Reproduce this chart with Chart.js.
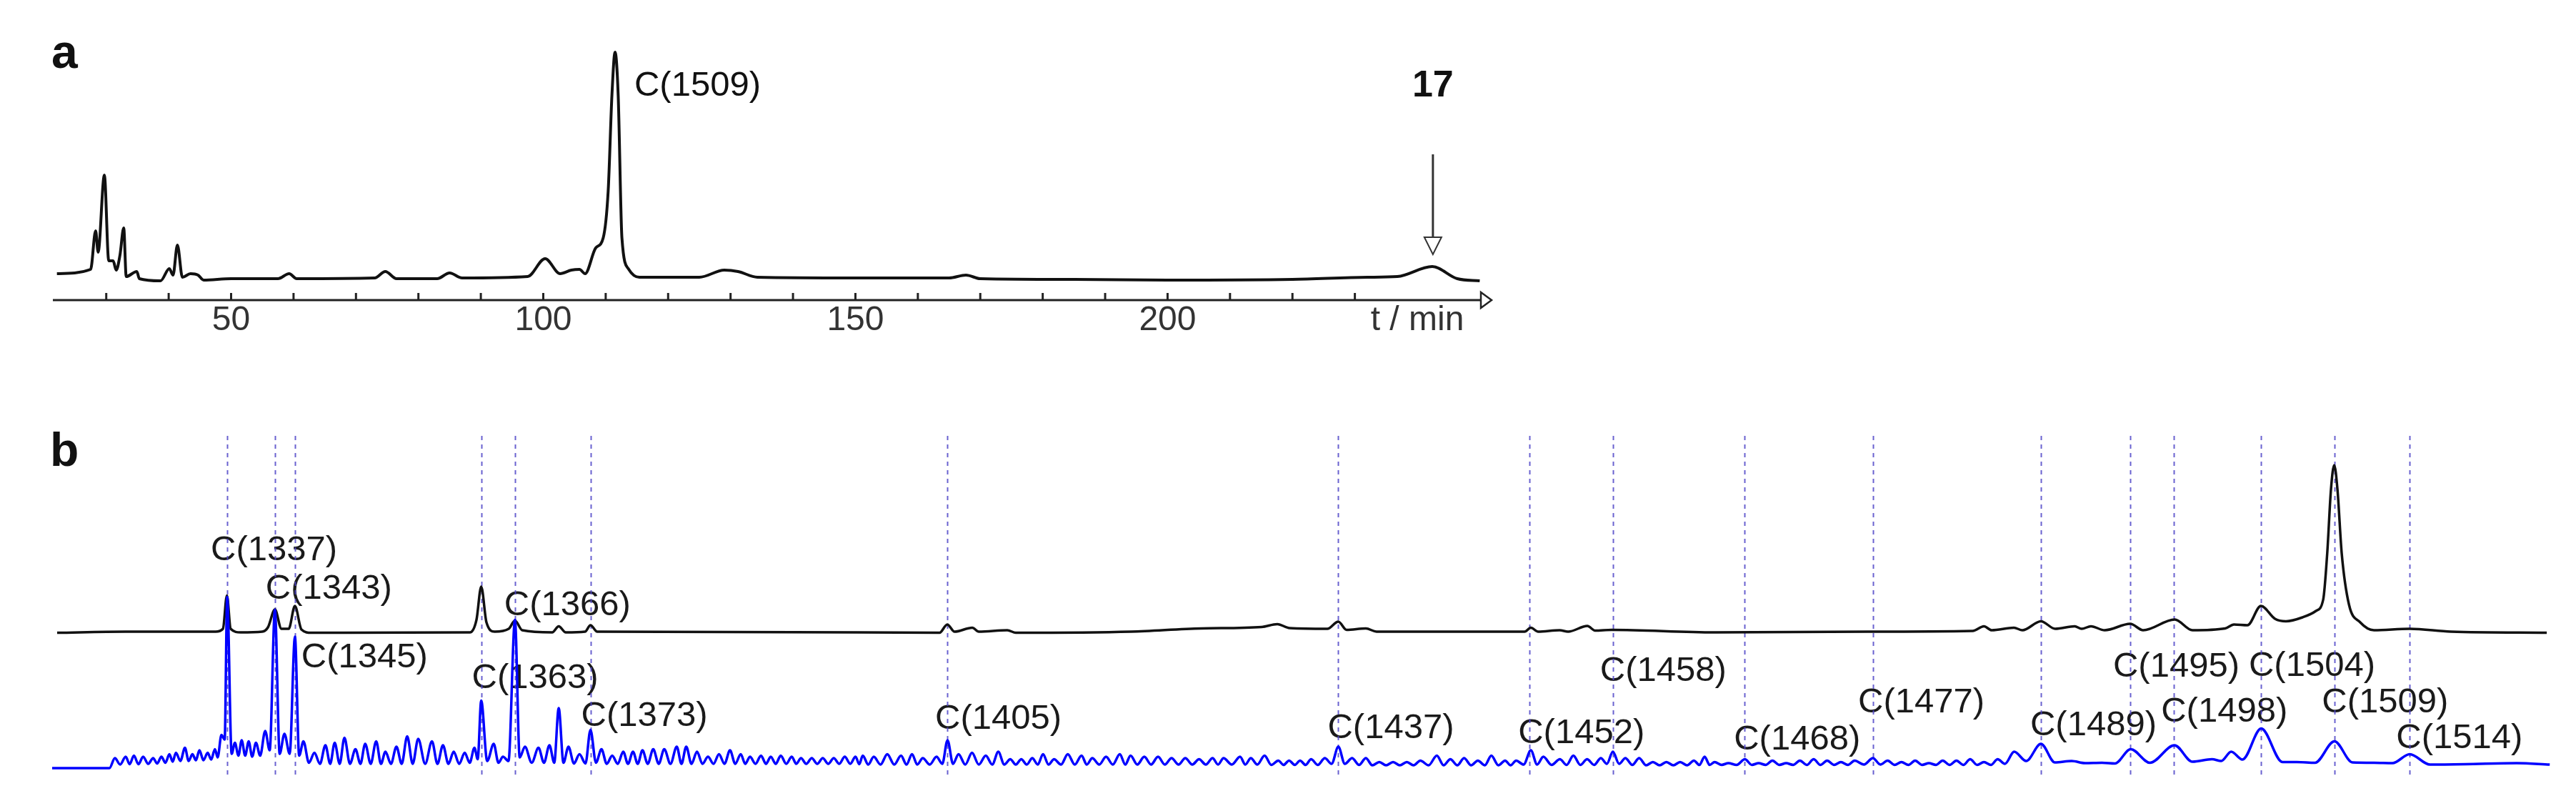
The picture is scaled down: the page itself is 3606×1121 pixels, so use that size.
<!DOCTYPE html>
<html>
<head>
<meta charset="utf-8">
<script src="https://cdn.jsdelivr.net/npm/chart.js@4.4.0/dist/chart.umd.min.js"></script>
<style>
  html, body { margin: 0; padding: 0; background: #fff; }
  body { width: 3606px; height: 1121px; position: relative; overflow: hidden; }
  .panel { position: absolute; left: 0; width: 3606px; }
  #panel-a { top: 0; height: 480px; }
  #panel-b { top: 560px; height: 561px; }
</style>
</head>
<body>
<div class="panel" id="panel-a"><canvas id="chart-a"></canvas></div>
<div class="panel" id="panel-b"><canvas id="chart-b"></canvas></div>
<script>
// ---- Panel a: whole chromatogram, [t / min, signal (a.u.)] ----
const traceA = [
  [22.1, 9.25], [27.5, 10.75], [28.3, 24.25], [28.7, 16.75], [29.7, 43.75], [30.4, 13.75],
  [31.1, 13.75], [31.6, 10.5], [32.2, 15.75], [32.8, 25.25], [33.2, 8.25], [34.9, 10],
  [35.3, 7.5], [38.7, 6.75], [40.1, 11], [40.7, 8.75], [41.4, 19.25], [42.2, 8],
  [43.5, 9.25], [44.7, 8.75], [45.6, 7], [50, 7.5], [57.5, 7.5], [59.3, 9.25], [60.5, 7.5],
  [73, 7.75], [74.7, 10], [76.5, 7.5], [83, 7.5], [85, 9.5], [87, 7.75], [97.5, 8.25],
  [100.3, 14.5], [102.7, 9.25], [104.5, 10.5], [105.8, 10.75], [106.7, 9.25], [108.4, 18.25],
  [109.6, 21.75], [110.4, 38.25], [111.0, 71.75], [111.5, 86.75], [112.0, 71.75], [112.6, 21.75],
  [113.7, 10.75], [115.4, 8], [125, 8], [129, 10.5], [131.2, 10], [134.3, 8], [150, 7.75],
  [165, 7.75], [167.7, 8.75], [170, 7.5], [185, 7.25], [200, 7], [220, 7.25], [232, 8],
  [236.8, 8.25], [242.4, 11.75], [246.4, 7.5], [250, 6.75]
];
const tickMarksA = [30, 40, 50, 60, 70, 80, 90, 100, 110, 120, 130, 140, 150, 160, 170, 180, 190, 200, 210, 220, 230];
const tickLabelsA = { 50: '50', 100: '100', 150: '150', 200: '200', 240: 't / min' };
const mainPeakT = 111.5;
const mainPeakName = 'C(1509)';
const productT = 242.5;
const productName = '17';

// ---- Panel b: fraction (black) and ladder (blue), [retention (a.u.), signal (a.u.)] ----
const fractionTrace = [
  [0.2, 42.9], [2.94, 43.2], [6.54, 43.2], [6.83, 44.0], [6.99, 53.3], [7.14, 44.0], [7.54, 43.0],
  [8.4, 43.2], [8.63, 44.4], [8.91, 49.4], [9.17, 44.0], [9.46, 44.0], [9.71, 50.4], [9.97, 43.8],
  [10.37, 42.9], [16.71, 43.0], [16.97, 46.5], [17.16, 55.8], [17.37, 45.8], [17.7, 43.2],
  [18.26, 44.0], [18.51, 46.3], [18.8, 43.6], [20.0, 43.0], [20.26, 44.7], [20.54, 43.0],
  [21.31, 43.2], [21.53, 45.0], [21.8, 43.2], [32.2, 43.0], [35.49, 42.9], [35.8, 45.2],
  [36.09, 43.2], [36.8, 44.3], [37.06, 43.2], [38.2, 43.6], [38.54, 42.9], [43.14, 43.2],
  [45.97, 44.1], [48.37, 44.5], [49.0, 45.3], [49.49, 44.2], [51.0, 44.0], [51.44, 46.0],
  [51.77, 43.7], [52.54, 44.1], [52.97, 43.2], [58.89, 43.2], [59.14, 44.3], [59.43, 43.2],
  [60.29, 43.6], [60.63, 43.2], [61.4, 44.8], [61.71, 43.5], [62.37, 43.7], [66.49, 43.0],
  [72.63, 43.2], [76.81, 43.4], [77.26, 44.7], [77.57, 43.6], [78.46, 44.3], [78.8, 43.6],
  [79.54, 46.1], [80.11, 44.0], [80.89, 44.7], [81.17, 44.0], [81.54, 44.7], [82.09, 43.6],
  [83.11, 45.4], [83.63, 43.6], [84.89, 46.6], [85.6, 43.6], [86.91, 44.1], [87.26, 45.2],
  [87.8, 45.0], [88.34, 50.4], [88.9, 46.8], [89.34, 46.1], [90.0, 47.2], [90.54, 49.0],
  [90.83, 52.2], [90.99, 65.1], [91.14, 83.0], [91.27, 89.8], [91.4, 83.0], [91.57, 65.1],
  [91.86, 50.8], [92.31, 45.8], [92.86, 43.6], [94.29, 44.0], [95.94, 43.2], [99.77, 42.9]
];
const ladderTrace = [
  [0, 5.0], [2.29, 5.0], [2.51, 7.8], [2.72, 6.0], [2.94, 8.2], [3.1, 6.1], [3.27, 8.5], [3.45, 6.1],
  [3.64, 8.2], [3.84, 6.2], [4.04, 7.8], [4.2, 6.3], [4.37, 8.2], [4.53, 6.5], [4.69, 8.9], [4.82, 6.8],
  [4.95, 9.3], [5.13, 7.0], [5.31, 10.7], [5.46, 7.0], [5.61, 8.9], [5.75, 7.2], [5.89, 10.0], [6.05, 7.2],
  [6.22, 9.3], [6.36, 7.4], [6.51, 10.3], [6.62, 8.0], [6.77, 14.3], [6.9, 13.0], [7.0, 52.9], [7.18, 9.0],
  [7.31, 12.1], [7.45, 8.5], [7.58, 12.8], [7.72, 8.5], [7.86, 12.5], [8.0, 8.2], [8.15, 12.1], [8.32, 8.5],
  [8.52, 15.4], [8.7, 10.0], [8.91, 49.3], [9.1, 9.0], [9.29, 14.6], [9.5, 9.0], [9.71, 41.8], [9.88, 8.5],
  [10.05, 12.5], [10.27, 6.5], [10.49, 9.3], [10.71, 6.2], [10.93, 11.4], [11.12, 6.2], [11.3, 12.1], [11.5, 6.2],
  [11.69, 13.5], [11.91, 6.2], [12.13, 10.3], [12.33, 6.2], [12.52, 11.8], [12.74, 6.2], [12.96, 12.5], [13.15, 6.2],
  [13.33, 9.6], [13.55, 6.2], [13.77, 11.0], [13.98, 6.2], [14.2, 13.9], [14.42, 6.2], [14.64, 13.2], [14.92, 6.2],
  [15.19, 12.5], [15.41, 6.2], [15.63, 11.4], [15.85, 6.2], [16.06, 9.6], [16.28, 6.2], [16.5, 9.3], [16.7, 6.5],
  [16.89, 10.7], [17.02, 7.5], [17.16, 23.9], [17.4, 7.0], [17.66, 11.8], [17.85, 6.5], [18.03, 8.2], [18.25, 7.0],
  [18.51, 46.5], [18.7, 8.0], [18.91, 11.0], [19.18, 6.5], [19.45, 10.7], [19.67, 6.5], [19.89, 11.4], [20.08, 6.5],
  [20.26, 21.8], [20.45, 6.5], [20.65, 11.0], [20.87, 6.3], [21.09, 8.9], [21.33, 6.3], [21.53, 15.7], [21.75, 6.5],
  [21.97, 10.3], [22.18, 6.2], [22.4, 8.5], [22.62, 6.2], [22.84, 9.6], [23.03, 6.2], [23.23, 9.6], [23.42, 6.2],
  [23.61, 10.0], [23.82, 6.2], [24.04, 10.3], [24.26, 6.2], [24.48, 10.3], [24.73, 6.2], [24.98, 11.0], [25.17, 6.2],
  [25.36, 11.0], [25.57, 6.2], [25.79, 9.6], [26.01, 6.2], [26.23, 8.2], [26.45, 6.2], [26.67, 8.9], [26.89, 6.2],
  [27.11, 10.0], [27.32, 6.2], [27.54, 8.9], [27.72, 6.2], [27.91, 8.2], [28.13, 6.2], [28.35, 8.5], [28.55, 6.2],
  [28.74, 8.2], [28.94, 6.2], [29.14, 8.5], [29.36, 6.2], [29.58, 8.2], [29.76, 6.2], [29.95, 7.8], [30.16, 6.2],
  [30.38, 7.8], [30.6, 6.2], [30.82, 7.8], [31.04, 6.2], [31.26, 7.8], [31.48, 6.2], [31.7, 8.2], [31.92, 6.2],
  [32.13, 8.2], [32.28, 6.1], [32.42, 8.5], [32.64, 6.0], [32.86, 8.2], [33.13, 6.0], [33.4, 8.9], [33.68, 6.0],
  [33.95, 8.5], [34.17, 6.0], [34.39, 8.9], [34.6, 6.0], [34.82, 7.8], [35.1, 6.0], [35.37, 8.2], [35.6, 6.2],
  [35.81, 12.8], [36.03, 6.2], [36.25, 8.9], [36.52, 6.0], [36.79, 9.3], [37.06, 6.0], [37.34, 8.5], [37.6, 6.0],
  [37.84, 9.6], [38.08, 6.0], [38.32, 7.5], [38.54, 6.0], [38.76, 7.5], [38.98, 6.0], [39.2, 7.8], [39.42, 6.0],
  [39.63, 8.9], [39.85, 6.0], [40.07, 7.5], [40.35, 6.0], [40.62, 8.9], [40.9, 6.0], [41.17, 8.5], [41.38, 6.0],
  [41.6, 7.8], [41.88, 6.0], [42.15, 8.2], [42.42, 6.0], [42.7, 8.9], [42.92, 6.0], [43.13, 8.5], [43.4, 6.0],
  [43.68, 8.2], [43.95, 6.0], [44.23, 8.2], [44.5, 6.0], [44.77, 7.8], [45.05, 6.0], [45.32, 7.8], [45.6, 6.0],
  [45.87, 7.5], [46.14, 6.0], [46.41, 7.8], [46.63, 6.0], [46.85, 7.8], [47.18, 6.0], [47.51, 8.2], [47.72, 6.0],
  [47.94, 7.8], [48.2, 6.0], [48.49, 8.5], [48.76, 5.9], [49.04, 7.1], [49.25, 5.9], [49.47, 7.1], [49.7, 5.9],
  [49.91, 7.1], [50.13, 5.9], [50.35, 7.5], [50.62, 5.9], [50.9, 7.8], [51.17, 6.2], [51.44, 11.0], [51.7, 6.2],
  [51.99, 7.8], [52.27, 5.9], [52.54, 7.8], [52.8, 5.8], [53.08, 6.7], [53.35, 5.8], [53.63, 6.7], [53.9, 5.8],
  [54.18, 6.7], [54.45, 5.8], [54.72, 7.1], [55.05, 5.8], [55.38, 8.5], [55.65, 5.8], [55.92, 7.5], [56.2, 5.8],
  [56.47, 7.8], [56.75, 5.8], [57.02, 7.1], [57.3, 5.8], [57.56, 8.5], [57.84, 5.8], [58.11, 7.1], [58.33, 5.8],
  [58.55, 7.1], [58.85, 6.0], [59.14, 10.0], [59.39, 6.0], [59.64, 8.2], [59.97, 5.9], [60.3, 7.5], [60.57, 5.9],
  [60.84, 8.5], [61.12, 5.9], [61.39, 7.5], [61.67, 5.9], [61.94, 7.8], [62.18, 6.2], [62.42, 9.6], [62.67, 6.2],
  [62.92, 7.8], [63.2, 5.9], [63.47, 7.8], [63.75, 5.8], [64.02, 6.7], [64.29, 5.8], [64.56, 6.7], [64.84, 5.8],
  [65.11, 6.7], [65.39, 5.8], [65.66, 7.1], [65.88, 5.9], [66.09, 8.2], [66.29, 5.9], [66.49, 6.7], [66.77, 5.9],
  [67.04, 6.4], [67.37, 5.9], [67.7, 7.5], [67.98, 5.9], [68.25, 6.4], [68.53, 5.9], [68.8, 7.1], [69.08, 5.9],
  [69.35, 6.4], [69.63, 5.9], [69.9, 7.1], [70.18, 5.9], [70.45, 7.5], [70.72, 5.9], [70.99, 7.1], [71.27, 5.9],
  [71.54, 6.7], [71.82, 5.9], [72.09, 7.1], [72.46, 6.0], [72.82, 7.8], [73.12, 6.0], [73.41, 7.1], [73.69, 5.9],
  [73.96, 6.7], [74.24, 5.9], [74.51, 7.1], [74.79, 5.9], [75.06, 6.4], [75.34, 5.9], [75.61, 7.1], [75.89, 5.9],
  [76.16, 7.1], [76.44, 5.9], [76.71, 7.5], [76.99, 5.9], [77.26, 6.7], [77.54, 5.9], [77.81, 7.5], [78.1, 6.2],
  [78.47, 9.6], [78.95, 7.0], [79.54, 11.8], [80.1, 6.6], [80.77, 7.0], [81.3, 6.4], [81.98, 6.5], [82.5, 6.3],
  [83.13, 10.3], [83.9, 6.5], [84.88, 11.4], [85.6, 6.8], [86.38, 7.5], [86.75, 7.0], [87.15, 9.6], [87.6, 7.4],
  [88.35, 16.1], [89.2, 6.7], [89.78, 6.7], [90.5, 6.5], [91.28, 12.5], [92.0, 6.6], [92.86, 6.5], [93.6, 6.4],
  [94.29, 8.9], [95.1, 6.0], [96.5, 6.1], [98.57, 6.4], [99.89, 6.0]
];
const peakNames = ['C(1337)', 'C(1343)', 'C(1345)', 'C(1363)', 'C(1366)', 'C(1373)', 'C(1405)', 'C(1437)', 'C(1452)',
  'C(1458)', 'C(1468)', 'C(1477)', 'C(1489)', 'C(1495)', 'C(1498)', 'C(1504)', 'C(1509)', 'C(1514)'];
const peakRetention = [7.0, 8.91, 9.71, 17.16, 18.51, 21.53, 35.8, 51.44, 59.09,
  62.42, 67.69, 72.83, 79.54, 83.11, 84.86, 88.34, 91.29, 94.29];

// label placement (px offset from the marker line, baseline on the page)
const labelLayout = [
  [-23, 784], [-13, 838], [9, 934], [-13, 963], [-15, 861], [-13, 1016], [-17, 1020], [-15, 1033], [-16, 1040],
  [-18, 953], [-15, 1049], [-21, 997], [-15, 1029], [-24, 947], [-18, 1010], [-17, 946], [-18, 997], [-19, 1047]
];

const PAGE_W = 3606;
const PANEL_B_TOP = 560;
const FONT = '"Liberation Sans", Arial, Helvetica, sans-serif';

function toXY(rows) {
  return rows.map(([x, y]) => ({ x, y }));
}

function openTriangle(ctx, pts, lw) {
  ctx.beginPath();
  ctx.moveTo(pts[0][0], pts[0][1]);
  ctx.lineTo(pts[1][0], pts[1][1]);
  ctx.lineTo(pts[2][0], pts[2][1]);
  ctx.closePath();
  ctx.fillStyle = '#fff';
  ctx.fill();
  ctx.lineWidth = lw;
  ctx.stroke();
}

// axis with arrow, inward ticks, annotations of panel a
const panelAPlugin = {
  id: 'panelA',
  afterDraw(chart) {
    const { ctx, chartArea, scales: { x } } = chart;
    const axisY = chartArea.bottom;
    const tip = chartArea.right;
    ctx.save();
    ctx.strokeStyle = '#222';
    ctx.lineWidth = 3;
    ctx.beginPath();
    ctx.moveTo(chartArea.left, axisY);
    ctx.lineTo(tip - 14, axisY);
    ctx.stroke();
    openTriangle(ctx, [[tip - 15, axisY - 11], [tip, axisY], [tip - 15, axisY + 11]], 2.5);

    ctx.lineWidth = 3;
    tickMarksA.forEach(t => {
      const px = x.getPixelForValue(t);
      ctx.beginPath();
      ctx.moveTo(px, axisY);
      ctx.lineTo(px, axisY - 10);
      ctx.stroke();
    });

    // arrow pointing at the product peak
    const ax = x.getPixelForValue(productT);
    ctx.strokeStyle = '#333';
    ctx.lineWidth = 3;
    ctx.beginPath();
    ctx.moveTo(ax, 216);
    ctx.lineTo(ax, 332);
    ctx.stroke();
    openTriangle(ctx, [[ax - 12, 332], [ax + 12, 332], [ax, 356]], 2);

    ctx.fillStyle = '#111';
    ctx.textBaseline = 'alphabetic';
    ctx.font = 'bold 52px ' + FONT;
    ctx.textAlign = 'center';
    ctx.fillText(productName, ax, 135);

    ctx.font = '49px ' + FONT;
    ctx.textAlign = 'left';
    ctx.fillText(mainPeakName, x.getPixelForValue(mainPeakT) + 27, 134);

    ctx.font = 'bold 66px ' + FONT;
    ctx.fillText('a', 72, 95);
    ctx.restore();
  }
};

// marker lines and labels of panel b
const panelBPlugin = {
  id: 'panelB',
  beforeDatasetsDraw(chart) {
    const { ctx, scales: { x, y } } = chart;
    ctx.save();
    ctx.fillStyle = '#111';
    ctx.font = 'bold 66px ' + FONT;
    ctx.textBaseline = 'alphabetic';
    ctx.textAlign = 'left';
    ctx.fillText('b', 70, 652 - PANEL_B_TOP);

    ctx.font = '49px ' + FONT;
    ctx.fillStyle = '#1a1a1a';
    peakNames.forEach((name, i) => {
      const px = x.getPixelForValue(peakRetention[i]);
      const [dx, base] = labelLayout[i];
      ctx.fillText(name, px + dx, base - PANEL_B_TOP);
    });

    ctx.strokeStyle = 'rgba(80, 70, 200, 0.85)';
    ctx.lineWidth = 2;
    ctx.setLineDash([6, 6]);
    const top = y.getPixelForValue(98);
    const bottom = y.getPixelForValue(3);
    peakRetention.forEach(r => {
      const px = Math.round(x.getPixelForValue(r)) + 0.5;
      ctx.beginPath();
      ctx.moveTo(px, top);
      ctx.lineTo(px, bottom);
      ctx.stroke();
    });
    ctx.restore();
  }
};

const lineStyle = {
  pointRadius: 0,
  fill: false,
  cubicInterpolationMode: 'monotone'
};

new Chart(document.getElementById('chart-a'), {
  type: 'line',
  data: {
    datasets: [{
      ...lineStyle,
      label: 'chromatogram',
      data: toXY(traceA),
      borderColor: '#111',
      borderWidth: 4
    }]
  },
  options: {
    responsive: true,
    maintainAspectRatio: false,
    animation: false,
    devicePixelRatio: 1,
    layout: { padding: { left: 74, right: PAGE_W - 2088, top: 20, bottom: 0 } },
    plugins: { legend: { display: false }, tooltip: { enabled: false } },
    scales: {
      x: {
        type: 'linear',
        min: 21.45,
        max: 251.9,
        grid: { display: false, drawTicks: false },
        border: { display: false },
        afterBuildTicks: axis => { axis.ticks = Object.keys(tickLabelsA).map(v => ({ value: +v })); },
        afterFit: axis => { axis.height = 60; },
        ticks: {
          autoSkip: false,
          maxRotation: 0,
          padding: 0,
          color: '#333',
          font: { family: FONT, size: 48 },
          callback: v => tickLabelsA[v] || ''
        }
      },
      y: { display: false, min: 0, max: 100 }
    }
  },
  plugins: [panelAPlugin]
});

new Chart(document.getElementById('chart-b'), {
  type: 'line',
  data: {
    datasets: [
      { ...lineStyle, label: 'ladder', data: toXY(ladderTrace), borderColor: '#0000ff', borderWidth: 3.5, order: 0 },
      { ...lineStyle, label: 'fraction', data: toXY(fractionTrace), borderColor: '#111', borderWidth: 3.5, order: 1 }
    ]
  },
  options: {
    responsive: true,
    maintainAspectRatio: false,
    animation: false,
    devicePixelRatio: 1,
    layout: { padding: { left: 73, right: 0, top: 0, bottom: 21 } },
    plugins: { legend: { display: false }, tooltip: { enabled: false } },
    scales: {
      x: { type: 'linear', display: false, min: 0, max: 100.94 },
      y: { display: false, min: 0, max: 108 }
    }
  },
  plugins: [panelBPlugin]
});
</script>
</body>
</html>
